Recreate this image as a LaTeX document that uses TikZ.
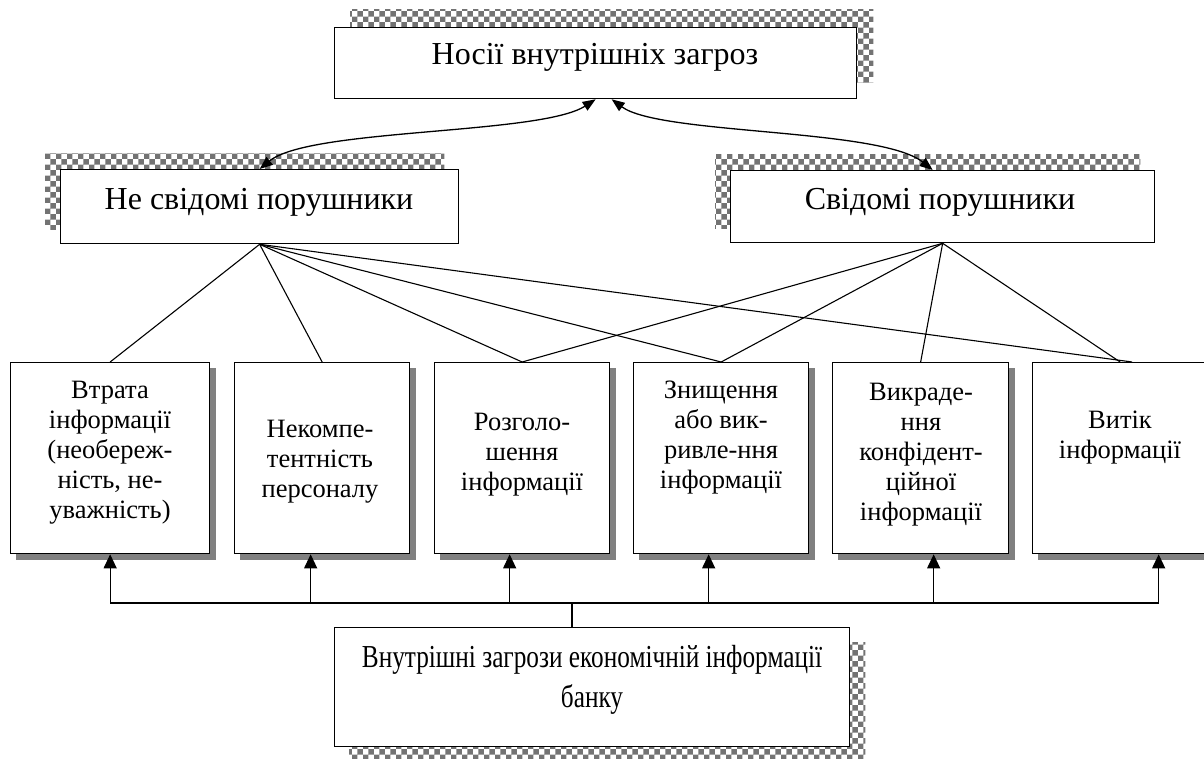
\documentclass[tikz,border=0pt]{standalone}
\usepackage{fontspec}
\setmainfont{Liberation Serif}
\newfontfamily\condfont[FakeStretch=0.79]{Liberation Serif}
\usetikzlibrary{arrows.meta,patterns,calc,backgrounds}
\definecolor{shadegray}{HTML}{808080}
\begin{document}
\begin{tikzpicture}[x=1pt,y=-1pt,
  bx/.style={draw=black,line width=1.3pt,fill=white,inner sep=0pt,anchor=north west},
  chk/.style={pattern=checkerboard,pattern color=black!55},
  big/.style={font=\fontsize{32}{38}\selectfont,inner sep=0pt,anchor=base},
  small/.style={font=\fontsize{26.5}{30}\selectfont,inner sep=0pt,align=center,anchor=base},
  ln/.style={line width=1.1pt},
  arr/.style={line width=1.1pt,-{Triangle[length=14pt,width=13pt]}},
  dbl/.style={line width=1.3pt,{Triangle[length=13pt,width=10pt]}-{Triangle[length=13pt,width=10pt]}}]
\useasboundingbox (0,0) rectangle (1204,759);
\clip (0,0) rectangle (1204,759);
% main boxes
\node[bx,minimum width=522pt,minimum height=71pt] (T) at (334,27) {};
\node[bx,minimum width=398pt,minimum height=74pt] (L) at (60,169) {};
\node[bx,minimum width=424pt,minimum height=72pt] (R) at (730,170) {};
\node[bx,minimum width=515pt,minimum height=119pt] (B) at (334,627) {};
% small boxes
\node[bx,minimum width=199pt,minimum height=191pt] (b1) at (10,362) {};
\node[bx,minimum width=175pt,minimum height=191pt] (b2) at (234,362) {};
\node[bx,minimum width=175pt,minimum height=191pt] (b3) at (434,362) {};
\node[bx,minimum width=175pt,minimum height=191pt] (b4) at (633,362) {};
\node[bx,minimum width=176pt,minimum height=191pt] (b5) at (832,362) {};
\node[bx,minimum width=175pt,minimum height=191pt] (b6) at (1032,362) {};
% shadows
\begin{scope}[on background layer]
  \fill[chk] ($(T.north west)+(16,-17)$) rectangle ($(T.south east)+(16,-17)$);
  \fill[chk] ($(L.north west)+(-15,-15)$) rectangle ($(L.south east)+(-15,-15)$);
  \fill[chk] ($(R.north west)+(-15,-15)$) rectangle ($(R.south east)+(-15,-15)$);
  \fill[chk] ($(B.north west)+(15,15)$) rectangle ($(B.south east)+(15,15)$);
  \foreach \b in {b1,b2,b3,b4,b5,b6}
    \fill[shadegray] ($(\b.north west)+(6,6)$) rectangle ($(\b.south east)+(6,6)$);
\end{scope}
% texts
\node[big] (tT) at (595,65) {Носії внутрішніх загроз};
\node[big] (tL) at (259,210) {Не свідомі порушники};
\node[big] (tR) at (940,210) {Свідомі порушники};
\node[inner sep=0pt,align=center,anchor=base,font=\condfont\fontsize{32}{40}\selectfont] (tB) at (592,707)
  {Внутрішні загрози економічній інформації\\банку};
\node[small] (t1) at (110,518) {Втрата\\інформації\\(необереж-\\ність, не-\\уважність)};
\node[small] (t2) at (320,497) {Некомпе-\\тентність\\персоналу};
\node[small] (t3) at (522,490) {Розголо-\\шення\\інформації};
\node[small] (t4) at (721,488) {Знищення\\або вик-\\ривле-ння\\інформації};
\node[small] (t5) at (921,520) {Викраде-\\ння\\конфідент-\\ційної\\інформації};
\node[small] (t6) at (1120,458) {Витік\\інформації};
% top curved arrows
\draw[dbl] (L.north) .. controls (310,128) and (540,135) .. (T.south);
\draw[dbl] ([xshift=16]T.south) .. controls (660,135) and (880,128) .. ([xshift=-10]R.north);
% connectors
\draw[ln] (L.south) -- (b1.north);
\draw[ln] (L.south) -- (b2.north);
\draw[ln] (L.south) -- (b3.north);
\draw[ln] (L.south) -- (b4.north);
\draw[ln] (L.south) -- ([xshift=12]b6.north);
\draw[ln] (R.south) -- (b3.north);
\draw[ln] (R.south) -- (b4.north);
\draw[ln] (R.south) -- (b5.north);
\draw[ln] (R.south) -- (b6.north);
% bottom bus
\coordinate (bus) at (572,603);
\draw[ln] (B.north -| bus) -- (bus);
\draw[arr] (bus) -| (b1.south);
\draw[arr] (bus) -| ([xshift=-11.5]b2.south);
\draw[arr] (bus) -| ([xshift=-12.5]b3.south);
\draw[arr] (bus) -| ([xshift=-12.5]b4.south);
\draw[arr] (bus) -| ([xshift=13]b5.south);
\draw[arr] (bus) -| ([xshift=38.5]b6.south);
\end{tikzpicture}
\end{document}
